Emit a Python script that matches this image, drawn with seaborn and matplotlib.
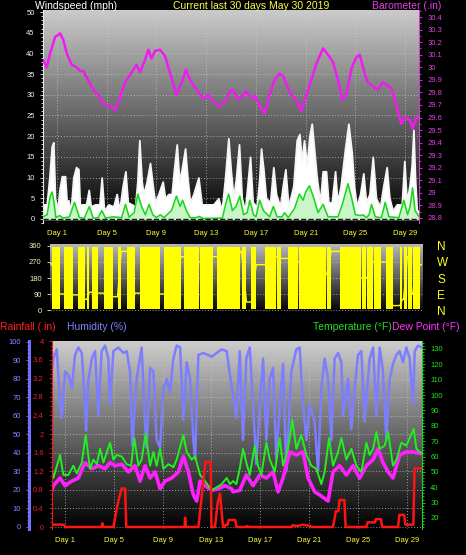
import numpy as np
import pandas as pd
import matplotlib
matplotlib.use("Agg")
import matplotlib.pyplot as plt
from matplotlib.colors import LinearSegmentedColormap
from matplotlib.ticker import MultipleLocator, FuncFormatter
import seaborn as sns

sns.set_style("dark")
plt.rcParams["font.family"] = ["Liberation Sans", "DejaVu Sans"]

## DATA  (x = day of the 30 day window)
day_ticks = [1, 5, 9, 13, 17, 21, 25, 29]
day_labels = [f"Day {d}" for d in day_ticks]

# barometer (.in)
baro_day = [-0.13, 0.17, 0.44, 0.84, 1.24, 1.5, 1.78, 2.18, 2.58, 2.85,
            3.12, 3.39, 3.92, 4.3, 4.7, 4.97, 5.4, 5.67, 5.9, 6.47,
            7.0, 7.4, 7.67, 8.08, 8.35, 8.6, 8.88, 9.28, 9.68, 10.2,
            10.6, 11.0, 11.38, 11.7, 12.24, 12.77, 13.17, 13.58, 14.1, 14.65,
            14.9, 15.16, 15.56, 15.97, 16.2, 16.6, 16.9, 17.3, 17.71, 18.1,
            18.5, 18.9, 19.2, 19.45, 19.85, 20.26, 20.66, 21.06, 21.46, 21.87,
            22.4, 22.8, 23.2, 23.6, 23.96, 24.28, 24.68, 25.08, 25.35, 25.75,
            26.0, 26.4, 26.8, 27.2, 27.5, 27.9, 28.3, 28.7, 28.97, 29.4,
            29.6, 29.9, 30.12]
baro_in = [30.06, 30.0, 30.11, 30.24, 30.27, 30.22, 30.11, 30.02, 30.0, 29.97,
           29.97, 29.92, 29.82, 29.78, 29.71, 29.7, 29.68, 29.66, 29.71, 29.88,
           29.96, 30.02, 29.96, 30.06, 30.14, 30.07, 30.13, 30.14, 30.09, 29.92,
           29.78, 29.87, 29.98, 29.9, 29.82, 29.75, 29.78, 29.73, 29.69, 29.74,
           29.81, 29.82, 29.74, 29.78, 29.81, 29.76, 29.77, 29.69, 29.63, 29.78,
           29.9, 29.95, 29.93, 29.86, 29.78, 29.74, 29.65, 29.78, 29.9, 30.03,
           30.15, 30.1, 30.04, 29.9, 29.74, 29.78, 29.99, 30.08, 30.1, 29.95,
           29.88, 29.85, 29.82, 29.88, 29.86, 29.83, 29.7, 29.55, 29.6, 29.58,
           29.51, 29.6, 29.6]

# wind gust (mph)
gust_day = [-0.13, 0.17, 0.38, 0.57, 0.7, 0.84, 1.03, 1.19, 1.38, 1.64,
            1.78, 1.91, 2.1, 2.31, 2.53, 2.72, 2.85, 2.98, 3.33, 3.55,
            3.71, 4.06, 4.41, 4.59, 4.78, 5.13, 5.53, 5.8, 6.01, 6.28,
            6.5, 6.69, 7.01, 7.28, 7.46, 7.62, 7.81, 7.95, 8.21, 8.48,
            8.7, 8.88, 9.15, 9.5, 9.69, 9.96, 10.22, 10.41, 10.63, 10.84,
            11.03, 11.3, 11.49, 11.7, 11.97, 12.37, 12.64, 13.04, 13.58, 13.98,
            14.25, 14.52, 14.78, 14.97, 15.19, 15.4, 15.64, 15.86, 16.12, 16.31,
            16.53, 16.74, 17.06, 17.28, 17.41, 17.6, 17.81, 18.14, 18.4, 18.62,
            18.94, 19.16, 19.37, 19.61, 20.01, 20.28, 20.5, 20.68, 20.87, 21.09,
            21.3, 21.49, 21.68, 21.89, 22.16, 22.37, 22.64, 22.83, 23.1, 23.37,
            23.55, 23.82, 24.17, 24.44, 24.71, 24.89, 25.11, 25.38, 25.64, 25.86,
            26.13, 26.4, 26.66, 26.99, 27.25, 27.52, 27.74, 28.0, 28.33, 28.73,
            28.94, 29.13, 29.35, 29.53, 29.67, 29.8, 29.94, 30.12]
gust_mph = [3.5, 3.5, 10, 17.5, 18.5, 5, 2, 7, 10.3, 10.3,
            4, 4.5, 2, 10, 12.5, 12, 2, 3.5, 3.5, 7,
            3, 3.5, 3.5, 10, 2, 3.5, 3, 6, 2, 8,
            11.5, 4, 3.5, 3, 9, 19, 9, 6, 9, 13.5,
            8, 4, 6, 9, 5, 6, 6, 12, 18, 9,
            12, 17, 10, 4, 6, 10, 3.5, 3.5, 3.5, 5,
            2, 10, 19.5, 12, 5, 10, 18, 5, 2, 8,
            15, 4, 3, 10, 17, 12, 5, 4, 12.5, 6,
            3, 8, 12, 3, 8, 19, 20.5, 14, 19, 13,
            20, 23, 17, 10, 4, 11.5, 11.5, 4, 4, 11.5,
            4, 8, 17, 23, 16, 8, 3, 6, 11, 4,
            6, 15, 5, 3, 8, 12.5, 5, 2, 3.5, 3.5,
            14, 4, 8, 13, 21.5, 10, 2, 2]

# wind speed (mph)
speed_day = [-0.13, 0.2, 0.45, 0.6, 0.75, 0.9, 1.2, 1.5, 2.0, 2.4,
             2.8, 3.2, 3.6, 3.9, 4.3, 4.6, 4.9, 5.5, 6.2, 6.5,
             6.8, 7.2, 7.5, 7.8, 8.1, 8.4, 8.7, 9.0, 9.3, 9.6,
             10.2, 10.6, 10.9, 11.1, 11.4, 11.7, 12.2, 12.4, 12.8, 14.3,
             14.6, 14.8, 15.1, 15.4, 15.7, 16.0, 16.3, 16.5, 16.8, 17.0,
             17.3, 17.6, 18.1, 18.4, 18.7, 19.1, 19.3, 19.6, 20.1, 20.5,
             20.8, 21.0, 21.3, 21.6, 22.0, 22.4, 22.8, 23.6, 24.0, 24.4,
             24.7, 25.0, 25.4, 25.6, 25.9, 26.1, 26.3, 26.6, 27.1, 27.4,
             27.7, 28.5, 28.9, 29.2, 29.4, 29.6, 29.8, 30.12]
speed_mph = [0.5, 1.0, 5.5, 6.5, 4.0, 0.3, 0.8, 0.2, 0.5, 4.0,
             0.3, 0.2, 3.0, 0.2, 0.3, 2.0, 0.2, 0.5, 0.3, 3.5,
             0.4, 1.5, 6.0, 3.0, 1.0, 3.5, 1.0, 0.3, 1.0, 0.3,
             2.0, 5.5, 3.0, 4.5, 2.0, 0.3, 0.3, 0.6, 0.1, 0.2,
             4.0, 6.0, 2.0, 3.0, 5.5, 1.0, 1.5, 4.5, 1.0, 0.5,
             4.5, 2.0, 0.5, 3.0, 0.5, 0.5, 1.5, 0.3, 2.5, 6.0,
             4.5, 6.5, 8.0, 5.5, 1.5, 3.5, 0.5, 0.5, 4.0, 8.5,
             5.0, 1.0, 0.8, 1.0, 0.3, 1.0, 3.5, 0.5, 0.3, 4.0,
             0.5, 0.3, 4.5, 1.0, 3.0, 7.5, 2.0, 0.5]

# wind direction: spans of swinging (variable) direction, steady direction between them
dir_block_start = [0.05, 1.0, 2.2, 2.9, 3.3, 4.3, 5.4, 6.2, 7.2, 9.2,
                   10.8, 12.1, 13.5, 14.35, 15.15, 15.5, 16.3, 17.4, 18.35, 19.3,
                   20.2, 22.15, 22.5, 23.5, 24.05, 25.3, 25.7, 26.3, 27.3, 28.4,
                   28.7, 29.1, 29.5]
dir_block_end = [0.7, 1.8, 2.75, 3.1, 3.8, 5.05, 5.7, 6.8, 8.85, 10.6,
                 12.0, 13.2, 14.3, 15.1, 15.4, 15.9, 16.7, 18.3, 18.7, 20.1,
                 22.1, 22.4, 22.8, 24.0, 25.2, 25.6, 26.2, 26.9, 27.8, 28.6,
                 29.0, 29.4, 30.0]
dir_between = [90, 85, 60, 100, 95, 75, 330, 95, 90, 300,
               270, 300, 200, 280, 330, 45, 255, 300, 290, 270,
               280, 200, 330, 270, 180, 180, 270, 270, 25, 60,
               300, 90]
dir_first = 260
dir_last = 255

# humidity (%)
hum_day = [-0.07, 0.04, 0.32, 0.59, 0.73, 1.0, 1.27, 1.55, 1.82, 2.09,
           2.37, 2.64, 2.72, 2.91, 3.19, 3.46, 3.73, 4.0, 4.28, 4.55,
           4.69, 4.96, 5.37, 5.78, 6.05, 6.33, 6.52, 6.87, 7.28, 7.56,
           7.69, 7.97, 8.24, 8.51, 8.79, 9.06, 9.33, 9.61, 9.88, 10.15,
           10.43, 10.7, 10.97, 11.25, 11.52, 11.66, 11.93, 12.34, 13.02, 13.43,
           13.84, 14.25, 14.52, 14.77, 15.04, 15.32, 15.59, 15.86, 16.14, 16.41,
           16.68, 16.96, 17.23, 17.5, 17.78, 18.05, 18.32, 18.6, 18.87, 19.14,
           19.55, 19.96, 20.23, 20.51, 20.78, 21.05, 21.46, 21.74, 22.01, 22.28,
           22.56, 22.83, 23.1, 23.38, 23.65, 23.79, 24.2, 24.47, 24.74, 25.02,
           25.29, 25.56, 25.97, 26.25, 26.52, 26.79, 27.06, 27.34, 27.61, 27.88,
           28.16, 28.43, 28.7, 28.98, 29.25, 29.52, 29.66, 29.93, 30.26]
hum_pct = [85, 91, 96, 66, 59, 84, 82, 75, 93, 97,
           94, 66, 52, 79, 91, 95, 60, 95, 98, 91,
           66, 95, 97, 94, 95, 84, 44, 80, 97, 55,
           43, 86, 84, 47, 43, 75, 80, 73, 91, 98,
           97, 58, 89, 80, 47, 37, 93, 94, 92, 94,
           96, 95, 82, 71, 59, 95, 47, 91, 97, 66,
           34, 66, 91, 47, 80, 86, 37, 66, 88, 30,
           84, 96, 97, 66, 47, 66, 57, 30, 75, 91,
           80, 47, 91, 94, 89, 60, 80, 53, 75, 93,
           95, 57, 91, 97, 60, 97, 84, 47, 80, 88,
           93, 95, 89, 97, 91, 66, 95, 98, 97]

# temperature (F)
temp_day = [-0.07, 0.04, 0.59, 0.86, 1.27, 1.68, 1.96, 2.37, 2.69, 3.05,
            3.32, 3.6, 3.87, 4.14, 4.69, 4.96, 5.23, 5.64, 6.05, 6.41,
            6.68, 7.01, 7.28, 7.61, 7.97, 8.24, 8.51, 8.79, 9.06, 9.47,
            9.88, 10.15, 10.7, 10.97, 11.38, 11.66, 12.07, 12.47, 13.02, 13.43,
            13.84, 14.25, 14.52, 14.77, 15.04, 15.32, 15.59, 15.86, 16.14, 16.55,
            16.82, 17.09, 17.5, 17.78, 18.19, 18.6, 18.87, 19.28, 19.63, 19.96,
            20.37, 20.78, 21.19, 21.6, 22.01, 22.28, 22.64, 22.97, 23.38, 23.65,
            24.06, 24.47, 24.88, 25.29, 25.7, 25.97, 26.25, 26.52, 26.79, 27.2,
            27.48, 27.88, 28.16, 28.57, 28.98, 29.25, 29.58, 29.8, 30.07, 30.26]
temp_f = [50, 46, 61, 48, 48, 54, 49, 56, 74, 52,
          58, 55, 65, 56, 69, 58, 61, 60, 55, 54,
          72, 54, 58, 75, 54, 63, 54, 65, 52, 55,
          53, 58, 74, 63, 58, 60, 48, 44, 38, 40,
          42, 46, 42, 44, 42, 52, 65, 56, 48, 67,
          54, 48, 69, 58, 50, 72, 54, 65, 84, 65,
          74, 61, 54, 52, 42, 50, 72, 54, 63, 72,
          58, 65, 54, 50, 69, 61, 65, 76, 65, 67,
          76, 54, 58, 69, 67, 72, 78, 65, 63, 62]

# dew point (F)
dew_day = [-0.07, 0.04, 0.59, 1.0, 1.55, 2.09, 2.64, 3.19, 3.73, 4.28,
           4.69, 5.1, 5.64, 6.19, 6.74, 7.15, 7.56, 7.97, 8.38, 8.79,
           9.2, 9.74, 10.29, 10.7, 11.11, 11.52, 11.79, 12.07, 12.47, 13.02,
           13.57, 14.11, 14.66, 14.77, 15.32, 15.86, 16.41, 16.96, 17.5, 18.05,
           18.46, 18.87, 19.41, 19.96, 20.51, 20.92, 21.46, 21.87, 22.56, 22.97,
           23.51, 24.06, 24.61, 25.15, 25.7, 26.25, 26.66, 27.06, 27.48, 27.88,
           28.43, 28.98, 29.52, 30.07, 30.26]
dew_f = [38, 41, 46, 41, 44, 46, 56, 52, 54, 52,
         56, 54, 55, 50, 54, 44, 54, 46, 50, 39,
         44, 46, 50, 60, 50, 35, 31, 44, 41, 38,
         39, 41, 39, 37, 38, 48, 41, 48, 46, 50,
         37, 46, 63, 61, 63, 46, 37, 35, 31, 50,
         54, 48, 54, 46, 54, 58, 65, 56, 50, 46,
         61, 63, 63, 62, 62]

# rainfall (.in)
rain_day = [-0.07, 0.9, 1.0, 4.0, 4.05, 4.15, 4.96, 5.1, 5.4, 5.64,
            5.92, 6.02, 10.8, 10.84, 10.9, 11.93, 12.3, 12.5, 12.94, 13.0,
            13.29, 13.5, 13.7, 13.95, 14.1, 14.15, 14.35, 14.4, 14.95, 15.05,
            15.85, 15.9, 16.1, 19.6, 19.65, 20.0, 20.5, 21.1, 21.2, 22.97,
            23.2, 23.4, 23.5, 23.9, 24.0, 25.7, 25.8, 26.4, 26.5, 26.9,
            27.0, 28.3, 28.4, 28.8, 28.9, 29.55, 29.65, 30.26]
rain_in = [0.05, 0.05, 0.0, 0.0, 0.08, 0.0, 0.0, 0.2, 0.6, 0.83,
           0.83, 0.0, 0.0, 0.2, 0.0, 0.0, 0.9, 1.4, 1.4, 0.0,
           0.0, 0.5, 0.72, 0.0, 0.0, 0.05, 0.05, 0.15, 0.15, 0.0,
           0.0, 0.02, 0.0, 0.0, 0.04, 0.02, 0.05, 0.02, 0.0, 0.0,
           0.34, 0.34, 0.58, 0.58, 0.0, 0.0, 0.1, 0.1, 0.17, 0.17,
           0.0, 0.0, 0.26, 0.26, 0.05, 0.05, 1.26, 1.26]

baro = pd.DataFrame({"day": baro_day, "inch": baro_in})
gust = pd.DataFrame({"day": gust_day, "mph": gust_mph})
speed = pd.DataFrame({"day": speed_day, "mph": speed_mph})
hum = pd.DataFrame({"day": hum_day, "pct": hum_pct})
temp = pd.DataFrame({"day": temp_day, "f": temp_f})
dew = pd.DataFrame({"day": dew_day, "f": dew_f})
rain = pd.DataFrame({"day": rain_day, "inch": rain_in})

# steady direction path between the variable spans
path_day = [-0.1, dir_block_start[0]]
path_deg = [dir_first, dir_first]
for i, b in enumerate(dir_between):
    path_day += [dir_block_end[i], dir_block_start[i + 1]]
    path_deg += [b, b]
path_day += [dir_block_end[-1], 30.2]
path_deg += [dir_last, dir_last]

## PLOT
W, H = 466, 555
fig = plt.figure(figsize=(W / 100, H / 100), dpi=100)
fig.patch.set_facecolor("black")


def add_ax(x0, y0, x1, y1):
    return fig.add_axes([x0 / W, 1 - y1 / H, (x1 - x0) / W, (y1 - y0) / H])


def shade(ax, top):
    cmap = LinearSegmentedColormap.from_list("bg", ["#000000", top])
    ax.imshow(np.linspace(0, 1, 256).reshape(-1, 1), extent=[0, 1, 0, 1],
              transform=ax.transAxes, cmap=cmap, origin="lower", aspect="auto", zorder=0)
    ax.set_facecolor("black")


def clean(ax):
    ax.set_xlabel("")
    ax.set_ylabel("")
    for s in ax.spines.values():
        s.set_visible(False)


GRID = dict(color="#c8c8c8", linestyle=(0, (1, 2)), linewidth=0.7, alpha=0.75)
gfmt = FuncFormatter(lambda v, p: f"{v:g}")
LINE = dict(estimator=None, sort=False, legend=False)
TS = 5.5

# --- wind speed / barometer
ax_w = add_ax(43, 10, 419, 223)
shade(ax_w, "#cbcbcb")
ax_w.fill_between(gust["day"], 0, gust["mph"], color="white",
                  edgecolor="#f4f4f4", linewidth=1.3, zorder=2)
ax_w.fill_between(speed["day"], 0, speed["mph"], color="#c8f6c8",
                  edgecolor="#c8f6c8", linewidth=1.0, zorder=3)
sns.lineplot(data=speed, x="day", y="mph", ax=ax_w, color="#19d619", linewidth=1.1, zorder=4, **LINE)
ax_w.axhline(0, color="#181818", linewidth=1, linestyle="--", zorder=5)
ax_w.set_xlim(-0.13, 30.12)
ax_w.set_ylim(-1, 50.5)
ax_w.set_yticks(range(0, 51, 5))
ax_w.yaxis.set_minor_locator(MultipleLocator(1))
ax_w.set_xticks(day_ticks)
ax_w.set_xticklabels(day_labels)
ax_w.grid(True, which="major", **GRID)
ax_w.set_axisbelow(True)
clean(ax_w)
ax_w.spines["left"].set_visible(True)
ax_w.spines["left"].set_color("#e8e8e8")
ax_w.tick_params(axis="y", which="both", colors="#f0f0f0", labelsize=TS, length=2.5, width=0.6, left=True)
ax_w.tick_params(axis="y", which="minor", length=1.5)
ax_w.tick_params(axis="x", colors="#ffff30", labelsize=TS, length=0, pad=5, bottom=True)

ax_b = ax_w.twinx()
sns.lineplot(data=baro, x="day", y="inch", ax=ax_b, color="#ee1cee", linewidth=1.8, **LINE)
ax_b.set_ylim(28.76, 30.456)
ax_b.set_yticks([round(28.8 + 0.1 * i, 1) for i in range(17)])
ax_b.yaxis.set_major_formatter(gfmt)
ax_b.yaxis.set_minor_locator(MultipleLocator(0.05))
clean(ax_b)
ax_b.spines["right"].set_visible(True)
ax_b.spines["right"].set_color("#d040d0")
ax_b.tick_params(axis="y", which="both", colors="#e040e0", labelsize=TS, length=2.5, width=0.6, right=True)
ax_b.tick_params(axis="y", which="minor", length=1.5)

# --- wind direction
ax_d = add_ax(50, 244, 422, 312)
shade(ax_d, "#b8b8b8")
for s, e in zip(dir_block_start, dir_block_end):
    ax_d.fill_between([s, e], 6, 354, color="#ffff00", linewidth=0, zorder=3)
sns.lineplot(x=path_day, y=path_deg, ax=ax_d, color="#ffff00", linewidth=1.0, zorder=3, **LINE)
ax_d.set_xlim(-0.1, 30.2)
ax_d.set_ylim(-11, 371)
ax_d.set_yticks([0, 90, 180, 270, 360])
ax_d.set_xticks([])
ax_d.grid(True, axis="y", **GRID)
ax_d.set_axisbelow(True)
clean(ax_d)
ax_d.tick_params(axis="y", colors="#f4f4b8", labelsize=TS, length=2.5, width=0.6, left=True)

ax_n = ax_d.twinx()
ax_n.set_ylim(-11, 371)
ax_n.set_yticks([360, 270, 180, 90, 0])
ax_n.set_yticklabels(["N", "W", "S", "E", "N"])
clean(ax_n)
ax_n.tick_params(axis="y", colors="#ffff20", labelsize=8.5, length=0, pad=11)

# --- humidity / temperature / dew point / rain
ax_h = add_ax(52, 341, 422, 529)
shade(ax_h, "#cdcdcd")
sns.lineplot(data=hum, x="day", y="pct", ax=ax_h, color="#7d7dff", linewidth=1.8, zorder=3, **LINE)
ax_h.set_xlim(-0.07, 30.26)
ax_h.set_ylim(-1.1, 100.5)
ax_h.set_yticks(range(0, 101, 10))
ax_h.yaxis.set_minor_locator(MultipleLocator(2))
ax_h.set_xticks(day_ticks)
ax_h.set_xticklabels(day_labels)
ax_h.grid(True, which="major", **GRID)
ax_h.set_axisbelow(True)
clean(ax_h)
ax_h.spines["left"].set_visible(True)
ax_h.spines["left"].set_position(("outward", 16.5))
ax_h.spines["left"].set_color("#7070ff")
ax_h.spines["left"].set_linewidth(2.2)
ax_h.tick_params(axis="y", which="both", colors="#8585ff", labelsize=TS, length=2.5, width=0.6, left=True)
ax_h.tick_params(axis="y", which="minor", length=1.5)
ax_h.tick_params(axis="x", colors="#ffff30", labelsize=TS, length=0, pad=6, bottom=True)

ax_t = ax_h.twinx()
sns.lineplot(data=dew, x="day", y="f", ax=ax_t, color="#ff20ff", linewidth=2.6, **LINE)
sns.lineplot(data=temp, x="day", y="f", ax=ax_t, color="#22ee22", linewidth=1.4, **LINE)
ax_t.set_ylim(12.8, 135.2)
ax_t.set_yticks(range(20, 131, 10))
ax_t.yaxis.set_minor_locator(MultipleLocator(2))
clean(ax_t)
ax_t.spines["right"].set_visible(True)
ax_t.spines["right"].set_color("#20d020")
ax_t.tick_params(axis="y", which="both", colors="#22e022", labelsize=TS, length=2.5, width=0.6, right=True)
ax_t.tick_params(axis="y", which="minor", length=1.5)

ax_r = ax_h.twinx()
sns.lineplot(data=rain, x="day", y="inch", ax=ax_r, color="#ff1414", linewidth=1.8, **LINE)
ax_r.set_ylim(-0.043, 3.96)
ax_r.set_yticks([round(0.4 * i, 1) for i in range(11)])
ax_r.yaxis.set_major_formatter(gfmt)
ax_r.yaxis.set_minor_locator(MultipleLocator(0.1))
ax_r.yaxis.set_ticks_position("left")
clean(ax_r)
ax_r.spines["left"].set_visible(True)
ax_r.spines["left"].set_color("#e02020")
ax_r.spines["left"].set_linestyle((0, (2, 1)))
ax_r.tick_params(axis="y", which="both", colors="#ee2020", labelsize=TS, length=2.5, width=0.6, left=True, right=False)
ax_r.tick_params(axis="y", which="minor", length=1.5)

# --- captions
def label(x, y, s, color, ha="left"):
    fig.text(x / W, 1 - y / H, s, color=color, fontsize=7.5, ha=ha, va="center")


label(35, 6, "Windspeed (mph)", "#ffffff")
label(251, 6, "Current last 30 days May 30 2019", "#ffff50", ha="center")
label(372, 6, "Barometer (.in)", "#e040e0")
label(0, 327, "Rainfall (.in)", "#ff2020")
label(67, 327, "Humidity (%)", "#8080ff")
label(313, 327, "Temperature (°F)", "#22dd22")
label(392, 327, "Dew Point (°F)", "#ff30ff")

fig.savefig("out.png", dpi=100, facecolor="black")
